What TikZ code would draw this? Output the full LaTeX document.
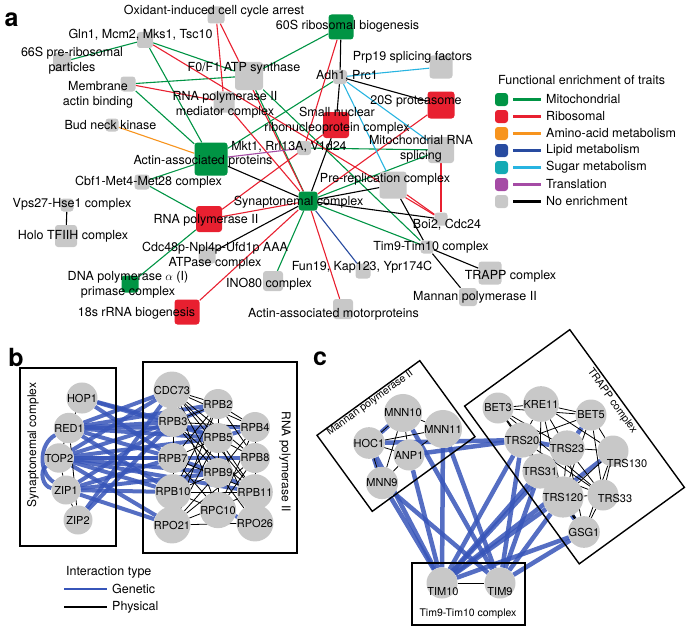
\documentclass[tikz,border=0pt]{standalone}
\usepackage{fontspec}
\setmainfont{TeX Gyre Heros}
\usetikzlibrary{positioning,backgrounds}
\definecolor{mito}{RGB}{0,148,68}
\definecolor{ribo}{RGB}{232,32,48}
\definecolor{amino}{RGB}{247,148,30}
\definecolor{lipid}{RGB}{40,75,160}
\definecolor{sugarsq}{RGB}{20,170,180}
\definecolor{sugar}{RGB}{40,180,225}
\definecolor{transl}{RGB}{165,75,165}
\definecolor{noenr}{RGB}{200,200,200}
\definecolor{genetic}{RGB}{55,85,185}

\begin{document}
\begin{tikzpicture}[x=1pt, y=-1pt,
    sq/.style={rectangle, rounded corners=3pt, inner sep=0pt, minimum size=#1},
    lbl/.style={inner sep=0pt, align=center, font=\fontsize{12.5}{15}\selectfont},
    e/.style={line width=1.1pt},
    gene/.style={circle, fill=noenr, inner sep=0pt, minimum size=#1, font=\fontsize{11}{12}\selectfont},
    gene/.default=30,
    gen/.style={genetic, line width=4pt, opacity=0.85},
    phy/.style={black, line width=0.8pt},
    cplx/.style={draw, line width=1.4pt, inner sep=0pt},
    panel/.style={inner sep=0pt, font=\fontsize{25}{25}\selectfont\bfseries}]
    \useasboundingbox (0,0) rectangle (693,634);

    \node (a-lab) [panel] at (11.5,19.5) {a};
    \node (b-lab) [panel] at (16,357) {b};
    \node (c-lab) [panel] at (320,359) {c};

    % panel a
    \node (ox) [sq=17, fill=noenr] at (216,15) {};
    \node (s60) [sq=25, fill=mito] at (341,27) {};
    \node (gln) [sq=16, fill=noenr] at (145,40) {};
    \node (p66) [sq=18, fill=noenr] at (62,62) {};
    \node (atp) [sq=28, fill=noenr] at (249,76) {};
    \node (mem) [sq=15, fill=noenr] at (128,84) {};
    \node (med) [sq=21, fill=noenr] at (224,102) {};
    \node (bud) [sq=13, fill=noenr] at (112,125) {};
    \node (aap) [sq=33, fill=mito] at (211,159) {};
    \node (mkt) [sq=14, fill=noenr] at (304,148) {};
    \node (snr) [sq=26, fill=ribo] at (336,125) {};
    \node (adh) [sq=14, fill=noenr] at (340,77) {};
    \node (prp) [sq=23, fill=noenr] at (441,67) {};
    \node (p20) [sq=27, fill=ribo] at (441,105) {};
    \node (mrs) [sq=26, fill=noenr] at (441,150) {};
    \node (pre) [sq=27, fill=noenr] at (393,185) {};
    \node (syn) [sq=19, fill=mito] at (308,201) {};
    \node (cbf) [sq=15, fill=noenr] at (142,182) {};
    \node (vps) [sq=13, fill=noenr] at (67,205) {};
    \node (holo) [sq=22, fill=noenr] at (66,236) {};
    \node (rnap) [sq=26, fill=ribo] at (209,219) {};
    \node (cdc) [sq=17, fill=noenr] at (207,255) {};
    \node (dnap) [sq=17, fill=mito] at (130,284) {};
    \node (r18) [sq=25, fill=ribo] at (187,312) {};
    \node (ino) [sq=20, fill=noenr] at (273,281) {};
    \node (fun) [sq=15, fill=noenr] at (363,271) {};
    \node (mot) [sq=20, fill=noenr] at (343,309) {};
    \node (boi) [sq=13, fill=noenr] at (441,219) {};
    \node (tim) [sq=13, fill=noenr] at (427,247) {};
    \node (trapp) [sq=23, fill=noenr] at (490,273) {};
    \node (mannan) [sq=18, fill=noenr] at (468,297) {};

    \node (ox-t) [lbl] at (214,11) {Oxidant-induced cell cycle arrest};
    \node (s60-t) [lbl] at (347.5,26) {60S ribosomal biogenesis};
    \node (gln-t) [lbl] at (140.5,35) {Gln1, Mcm2, Mks1, Tsc10};
    \node (p66-t) [lbl] at (72,61) {66S pre-ribosomal\\particles};
    \node (atp-t) [lbl] at (244,68) {F0/F1 ATP synthase};
    \node (mem-t) [lbl] at (98,94.5) {Membrane\\actin binding};
    \node (med-t) [lbl] at (225,104.5) {RNA polymerase II\\mediator complex};
    \node (bud-t) [lbl] at (110.5,125) {Bud neck kinase};
    \node (aap-t) [lbl] at (203,161) {Actin-associated proteins};
    \node (mkt-t) [lbl] at (289,147) {Mkt1, Rrl13A, V1d24};
    \node (snr-t) [lbl] at (337,120.5) {Small nuclear\\ribonucleoprotein complex};
    \node (adh-t) [lbl] at (347,76) {Adh1, Prc1};
    \node (prp-t) [lbl] at (412.5,57) {Prp19 splicing factors};
    \node (p20-t) [lbl] at (416,101) {20S proteasome};
    \node (mrs-t) [lbl] at (421,149) {Mitochondrial RNA\\splicing};
    \node (pre-t) [lbl] at (385,179) {Pre-replication complex};
    \node (syn-t) [lbl] at (298.5,202) {Synaptonemal complex};
    \node (cbf-t) [lbl] at (148.5,182) {Cbf1-Met4-Met28 complex};
    \node (vps-t) [lbl] at (72,204) {Vps27-Hse1 complex};
    \node (holo-t) [lbl] at (73,236) {Holo TFIIH complex};
    \node (rnap-t) [lbl] at (206,220) {RNA polymerase II};
    \node (cdc-t) [lbl] at (215,255.5) {Cdc48p-Npl4p-Ufd1p AAA\\ATPase complex};
    \node (dnap-t) [lbl] at (128,285) {DNA polymerase $\alpha$ (I)\\primase complex};
    \node (r18-t) [lbl] at (136.5,313) {18s rRNA biogenesis};
    \node (ino-t) [lbl] at (269,284) {INO80 complex};
    \node (fun-t) [lbl] at (362,267) {Fun19, Kap123, Ypr174C};
    \node (mot-t) [lbl] at (333.5,314) {Actin-associated motorproteins};
    \node (boi-t) [lbl] at (447,225) {Boi2, Cdc24};
    \node (tim-t) [lbl] at (431,247) {Tim9-Tim10 complex};
    \node (trapp-t) [lbl] at (510.5,276) {TRAPP complex};
    \node (mannan-t) [lbl] at (475,297) {Mannan polymerase II};

    \node (leg-t) [lbl, anchor=west] at (498,80) {Functional enrichment of traits};
    \foreach \s/\l/\t [count=\i] in {mito/mito/Mitochondrial, ribo/ribo/Ribosomal,
        amino/amino/Amino-acid metabolism, lipid/lipid/Lipid metabolism,
        sugarsq/sugar/Sugar metabolism, transl/transl/Translation, noenr/black/No enrichment} {
        \node (leg\i) [sq=13, fill=\s] at (501.5,{82.5+17*\i}) {};
        \draw [\l, line width=2.2pt] (513,{82.5+17*\i}) -- (541,{82.5+17*\i});
        \node (leg\i-t) [lbl, anchor=west] at (546,{82.5+17*\i}) {\t};
    }

    \begin{scope}[on background layer]
        \foreach \a/\b in {p66/gln, gln/atp, gln/aap, s60/atp, mem/atp, mem/aap, aap/adh, aap/cbf,
            cbf/rnap, rnap/dnap, mkt/mrs, syn/mrs, syn/tim, syn/ino, atp/syn, atp/tim}
            \draw [e, mito] (\a) -- (\b);
        \foreach \a/\b in {ox/med, ox/syn, gln/boi, mem/med, med/syn, s60/mkt, rnap/snr, p20/syn,
            r18/syn, rnap/syn, syn/mot, mrs/boi, pre/boi}
            \draw [e, ribo] (\a) -- (\b);
        \foreach \a/\b in {adh/prp, adh/mrs, adh/pre}
            \draw [e, sugar] (\a) -- (\b);
        \foreach \a/\b in {s60/adh, adh/snr, adh/p20, syn/snr, aap/syn, cdc/syn, syn/pre, syn/boi,
            pre/tim, tim/mannan, tim/trapp, vps/holo}
            \draw [e, black] (\a) -- (\b);
        \draw [e, transl] (aap) -- (mkt);
        \draw [e, amino] (bud) -- (aap);
        \draw [e, lipid] (syn) -- (fun);
    \end{scope}

    % panel b
    \node (synbox) [cplx, minimum width=96, minimum height=178] at (68,457) {};
    \node (polbox) [cplx, minimum width=154, minimum height=191] at (220,457.5) {};
    \node (synbox-t) [lbl, rotate=90, font=\fontsize{12}{14}\selectfont] at (33,445) {Synaptonemal complex};
    \node (polbox-t) [lbl, rotate=-90, font=\fontsize{12}{14}\selectfont] at (285,462) {RNA polymerase II};

    \node (hop1) [gene=29] at (82,398) {HOP1};
    \node (red1) [gene=29] at (69,428) {RED1};
    \node (top2) [gene=29] at (59,458) {TOP2};
    \node (zip1) [gene=29] at (66,490) {ZIP1};
    \node (zip2) [gene=29] at (78,520) {ZIP2};
    \node (cdc73) [gene] at (172,390) {CDC73};
    \node (rpb2) [gene] at (218,404) {RPB2};
    \node (rpb3) [gene] at (173,422) {RPB3};
    \node (rpb4) [gene] at (255,427) {RPB4};
    \node (rpb5) [gene] at (218,438) {RPB5};
    \node (rpb7) [gene] at (173,458) {RPB7};
    \node (rpb8) [gene] at (255,458) {RPB8};
    \node (rpb9) [gene] at (218,473) {RPB9};
    \node (rpb10) [gene] at (173,492) {RPB10};
    \node (rpb11) [gene] at (255,492) {RPB11};
    \node (rpc10) [gene] at (218,510) {RPC10};
    \node (rpo21) [gene] at (172,525) {RPO21};
    \node (rpo26) [gene] at (255,523) {RPO26};

    \node (int-t) [lbl, anchor=west] at (66,572) {Interaction type};
    \draw [genetic, line width=2.5pt] (64,589) -- (107,589);
    \node (gen-t) [lbl, anchor=west] at (112,589) {Genetic};
    \draw [black, line width=2pt] (64,607) -- (107,607);
    \node (phy-t) [lbl, anchor=west] at (112,607) {Physical};

    \begin{scope}[on background layer]
        \foreach \a/\b in {hop1/rpb3, hop1/rpb5, hop1/rpb7,
            red1/cdc73, red1/rpb3, red1/rpb2, red1/rpb5, red1/rpb4, red1/rpb7, red1/rpb10,
            top2/cdc73, top2/rpb3, top2/rpb5, top2/rpb7, top2/rpb8, top2/rpb9, top2/rpb10, top2/rpo21, top2/rpb11,
            zip1/rpb3, zip1/rpb7, zip1/rpb10, zip1/rpo21, zip1/rpb9,
            zip2/cdc73, zip2/rpb3,
            rpb3/rpb5, rpb7/rpb9, rpb5/rpb4, rpb9/rpb11, rpc10/rpo26, rpb3/rpb2}
            \draw [gen] (\a) -- (\b);
        \draw [gen] (red1) to [bend right=60] (zip1);
        \draw [gen] (top2) to [bend right=70] (zip1);
        \foreach \a/\b in {hop1/red1, red1/top2, top2/zip1, zip1/zip2, red1/zip2,
            cdc73/rpb2, cdc73/rpb5, cdc73/rpb4, cdc73/rpb9, cdc73/rpb8, cdc73/rpb11, cdc73/rpc10,
            rpb2/rpb4, rpb2/rpb3, rpb2/rpb7, rpb2/rpb8, rpb2/rpo21, rpb2/rpb10,
            rpb3/rpb9, rpb3/rpb4, rpb3/rpb11, rpb7/rpb5, rpb7/rpb11, rpb7/rpc10,
            rpb5/rpb8, rpb5/rpb10, rpb5/rpo26, rpb5/rpb11, rpb9/rpb4, rpb9/rpo26, rpb9/rpo21,
            rpb10/rpb9, rpb10/rpb11, rpb10/rpc10, rpo21/rpo26, rpo21/rpb5, rpo21/rpb11, rpo21/rpb8,
            rpc10/rpb4, rpc10/rpb8, rpb4/rpb11, rpb8/rpo26,
            cdc73/rpb3, rpb3/rpb7, rpb7/rpb10, rpb10/rpo21, rpb4/rpb8, rpb8/rpb11, rpb11/rpo26,
            rpb2/rpb5, rpb5/rpb9, rpb9/rpc10}
            \draw [phy] (\a) -- (\b);
    \end{scope}

    % panel c
    \node (mbox) [cplx, rotate=36, minimum width=127, minimum height=94] at (396,436) {};
    \node (tbox) [cplx, rotate=36, minimum width=130, minimum height=195] at (574.5,446.75) {};
    \node (timbox) [cplx, minimum width=113, minimum height=62] at (468.5,594) {};
    \node (mbox-t) [lbl, rotate=36, font=\fontsize{10.5}{12}\selectfont] at (370,403) {Mannan polymerase II};
    \node (tbox-t) [lbl, rotate=-54, font=\fontsize{10.5}{12}\selectfont] at (612,401) {TRAPP complex};
    \node (timbox-t) [lbl, font=\fontsize{10.5}{12}\selectfont] at (468,614) {Tim9-Tim10 complex};

    \node (mnn10) [gene=31] at (403,413) {MNN10};
    \node (mnn11) [gene=31] at (443,429) {MNN11};
    \node (hoc1) [gene=31] at (369,443) {HOC1};
    \node (anp1) [gene=31] at (409,455) {ANP1};
    \node (mnn9) [gene=31] at (382,483) {MNN9};
    \node (bet3) [gene=31] at (498,408) {BET3};
    \node (kre11) [gene=31] at (541,404) {KRE11};
    \node (bet5) [gene=31] at (591,415) {BET5};
    \node (trs20) [gene=31] at (522,440) {TRS20};
    \node (trs23) [gene=31] at (567,448) {TRS23};
    \node (trs130) [gene=31] at (613,451) {};
    \node (trs130-t) [lbl, font=\fontsize{11}{12}\selectfont] at (627,463) {TRS130};
    \node (trs31) [gene=31] at (540,471) {TRS31};
    \node (trs120) [gene=31] at (563,497) {TRS120};
    \node (trs33) [gene=31] at (603,495) {};
    \node (trs33-t) [lbl, font=\fontsize{11}{12}\selectfont] at (615,498) {TRS33};
    \node (gsg1) [gene=31] at (584,532) {GSG1};
    \node (tim10) [gene=31] at (442,583) {};
    \node (tim10-t) [lbl, font=\fontsize{11}{12}\selectfont] at (443,592) {TIM10};
    \node (tim9) [gene=31] at (500,583) {};
    \node (tim9-t) [lbl, font=\fontsize{11}{12}\selectfont] at (500,592) {TIM9};

    \begin{scope}[on background layer]
        \foreach \a/\b in {hoc1/trs20, anp1/trs20, hoc1/mnn10, hoc1/mnn9,
            tim10/mnn9, tim10/hoc1, tim10/anp1, tim10/mnn11, tim9/mnn10, tim9/mnn11, tim9/mnn9,
            tim10/trs20, tim10/trs31, tim10/trs120, tim10/gsg1, tim10/trs130, tim10/trs23,
            tim9/trs20, tim9/trs31, tim9/gsg1, tim9/trs120, trs20/trs23, bet5/trs23, trs31/gsg1}
            \draw [gen, line width=4.5pt] (\a) -- (\b);
        \foreach \a/\b in {mnn10/mnn11, mnn10/hoc1, mnn10/anp1, mnn10/mnn9, hoc1/anp1, hoc1/mnn9,
            hoc1/mnn11, anp1/mnn11, anp1/mnn9,
            bet3/kre11, bet3/trs20, bet3/trs23, bet3/trs31, bet3/trs120, bet3/trs33, bet3/bet5,
            kre11/bet5, kre11/trs20, kre11/trs23, kre11/trs31, kre11/trs120, kre11/trs130,
            bet5/trs20, bet5/trs130, bet5/trs33, bet5/trs120,
            trs20/trs31, trs20/trs120, trs20/trs33, trs20/gsg1,
            trs23/trs31, trs23/trs130, trs23/trs120, trs23/trs33, trs23/gsg1,
            trs130/trs33, trs130/gsg1, trs130/trs120, trs31/trs120, trs31/gsg1, trs31/trs33,
            trs120/trs33, trs120/gsg1, trs33/gsg1, tim10/tim9}
            \draw [phy] (\a) -- (\b);
    \end{scope}
\end{tikzpicture}
\end{document}
